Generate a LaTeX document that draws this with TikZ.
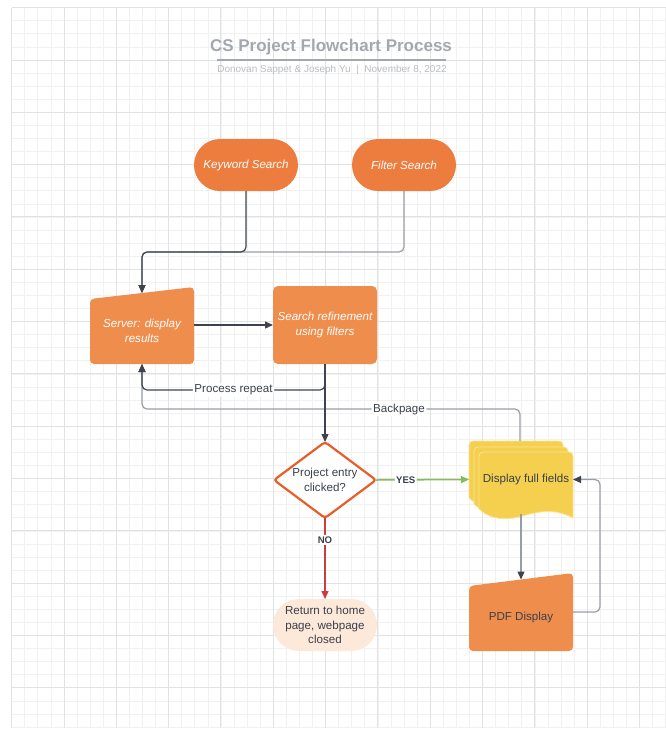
\documentclass[tikz,border=0pt]{standalone}
\usepackage{fontspec}
\setmainfont{Liberation Sans}
\definecolor{gridminor}{RGB}{241,241,241}
\definecolor{gridmajor}{RGB}{226,226,226}
\definecolor{titlegray}{RGB}{163,168,176}
\definecolor{subgray}{RGB}{184,188,194}
\definecolor{termorange}{RGB}{236,125,62}
\definecolor{procorange}{RGB}{239,141,77}
\definecolor{decorange}{RGB}{232,94,42}
\definecolor{docyellow}{RGB}{245,207,78}
\definecolor{docedge}{RGB}{250,228,150}
\definecolor{endpeach}{RGB}{252,233,218}
\definecolor{textdark}{RGB}{58,64,74}
\definecolor{linedark}{RGB}{62,68,78}
\definecolor{linelight}{RGB}{152,157,164}
\definecolor{yesgreen}{RGB}{134,187,94}
\definecolor{nored}{RGB}{201,63,63}
\usetikzlibrary{
  arrows.meta,      % Triangle tips
  calc,             % shifted anchors
  shapes.geometric  % decision diamond
}
\tikzset{
  every node/.style = {
    rectangle,
    inner sep=0pt,
    outer sep=0pt,
    align=center,
    text=textdark,
    font=\fontsize{11.6}{14.5}\selectfont
  },
  terminal/.style = {fill=termorange, rounded corners=26pt,
    minimum width=104pt, minimum height=52pt, text=white,
    font=\fontsize{11.6}{14.5}\selectfont\itshape},
  process/.style = {fill=procorange, rounded corners=5pt,
    minimum width=104pt, minimum height=78pt, text=white,
    font=\fontsize{11.6}{14.5}\selectfont\itshape},
  manual/.style = {minimum width=104pt},
  decision/.style = {diamond, aspect=1.34, draw=decorange, line width=2.2pt,
    fill=white, rounded corners=3pt, minimum width=102pt, minimum height=76pt},
  doc/.style = {minimum width=94pt, minimum height=55pt},
  endpoint/.style = {fill=endpeach, rounded corners=26pt,
    minimum width=104pt, minimum height=52pt},
  headline/.style = {text=titlegray, font=\fontsize{17}{20}\selectfont\bfseries},
  byline/.style = {text=subgray, font=\fontsize{10}{12}\selectfont},
  lbl/.style = {fill=white, inner sep=1.5pt},
  flag/.style = {lbl, font=\fontsize{9.6}{11}\selectfont\bfseries},
  conn/.style = {draw=linedark, line width=1.2pt, rounded corners=5pt,
    -{Triangle[length=8pt,width=7pt]}},
  connlight/.style = {conn, draw=linelight,
    -{Triangle[length=8pt,width=7pt,color=linedark]}},
  yes/.style = {conn, draw=yesgreen, line width=1.5pt},
  no/.style = {conn, draw=nored, line width=1.5pt}
}
\pgfdeclarelayer{grid}
\pgfdeclarelayer{background}
\pgfsetlayers{grid,background,main}

\begin{document}
\begin{tikzpicture}[x=1pt, y=-1pt]
  \useasboundingbox (0,0) rectangle (666,729);

  %% grid paper
  \begin{pgfonlayer}{grid}
    \foreach \i in {0,...,50}
      \draw[gridminor, line width=0.8pt] ({11.7+13.08*\i},7.7) -- ({11.7+13.08*\i},728);
    \foreach \j in {0,...,55}
      \draw[gridminor, line width=0.8pt] (11.7,{7.7+13.08*\j}) -- (666,{7.7+13.08*\j});
    \foreach \i in {0,...,12}
      \draw[gridmajor, line width=1pt] ({11.7+52.32*\i},7.7) -- ({11.7+52.32*\i},728);
    \foreach \j in {0,...,13}
      \draw[gridmajor, line width=1pt] (11.7,{7.7+52.32*\j}) -- (666,{7.7+52.32*\j});
  \end{pgfonlayer}

  %% title
  \node[headline] (title) at (331,47) {CS Project Flowchart Process};
  \draw[titlegray, line width=1.2pt] (217,60) -- (446,60);
  \node[byline] (authors) at (332,70) {Donovan Sappet \& Joseph Yu \ | \ November 8, 2022};

  %% nodes
  \node[terminal] (KS) at (246,165) {Keyword Search};
  \node[terminal] (FS) at (404,165) {Filter Search};

  \node[manual, minimum height=67pt, text=white,
    font=\fontsize{11.6}{15}\selectfont\itshape] (SV) at (142,330.5) {Server: display\\results};
  \node[process] (SR) at (325,325) {Search refinement\\using filters};

  \node[decision] (PE) at (325,480) {Project entry\\clicked?};
  \node[doc] (DF) at (526,479.5) {Display full fields};

  \node[endpoint] (RH) at (325,625) {Return to home\\page, webpage\\closed};
  \node[manual, minimum height=68pt] (PDF) at (521,617) {PDF Display};

  %% shapes behind the text
  \begin{pgfonlayer}{background}
    \fill[procorange, rounded corners=4pt] (SV.south west) -- ($(SV.north west)+(0,2)$)
      -- ($(SV.north east)+(0,-10)$) -- (SV.south east) -- cycle;
    \fill[procorange, rounded corners=4pt] (PDF.south west) -- ($(PDF.north west)+(0,3)$)
      -- ($(PDF.north east)+(0,-10)$) -- (PDF.south east) -- cycle;
    % stacked documents
    \foreach \dx/\dy in {10/11, 5/5, 0/0}
      \filldraw[fill=docyellow, draw=docedge, line width=0.8pt, rounded corners=4pt,
        shift={($(DF.center)+(-\dx,-\dy)$)}]
        (-47,29.5) -- (-47,-27.5) -- (47,-27.5) [sharp corners] -- (47,38.5)
        .. controls (32,30.5) and (19,30.5) .. (0,35.5)
        .. controls (-18,41.5) and (-36,40.5) .. cycle;
  \end{pgfonlayer}

  %% arrows
  \draw[connlight] (FS.south) -- ++(0,61) -| ($(SV.north)+(0,-4)$);
  \draw[conn] (KS.south) -- ++(0,61) -| ($(SV.north)+(0,-4)$);
  \draw[conn] (SV.east |- SR.west) -- (SR.west);

  \draw[connlight] ($(DF.north)+(-6,-11)$) -- ++(0,-32) -| node[lbl, pos=0.16] {Backpage} (SV.south);
  \draw[conn] (SR.south) -- ++(0,26) -| node[lbl, pos=0.25] {Process repeat} (SV.south);
  \draw[conn] (SR.south) -- (PE.north);

  \draw[yes] (PE.east) -- node[flag, pos=0.32] {YES} ($(DF.west)+(-10,0)$);
  \draw[no] (PE.south) -- node[flag, pos=0.27] {NO} (RH.north);

  \draw[connlight] ($(DF.south)+(-5,7)$) -- ($(PDF.north)+(0,-3.5)$);
  \draw[connlight] ($(PDF.east)+(0,-5)$) -- ++(27,0) |- (DF.east);

\end{tikzpicture}
\end{document}
